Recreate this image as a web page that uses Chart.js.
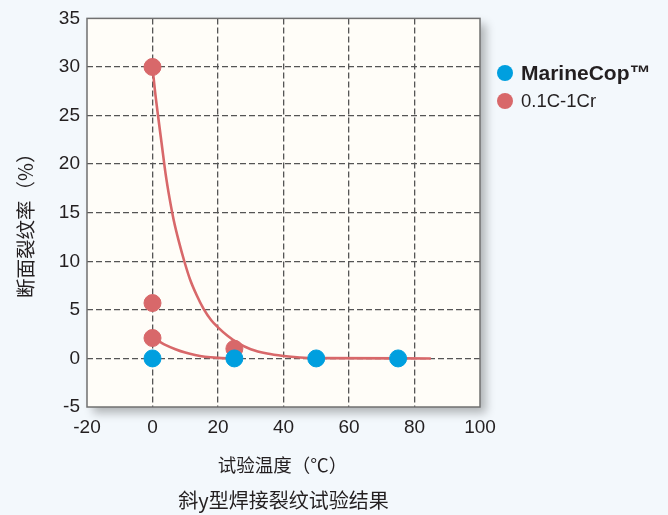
<!DOCTYPE html>
<html>
<head>
<meta charset="utf-8">
<script src="https://cdn.jsdelivr.net/npm/chart.js@4.4.1/dist/chart.umd.min.js"></script>
<style>
  html, body { margin: 0; padding: 0; background: #f3f8fc; }
  #wrap { width: 668px; height: 515px; position: relative; }
</style>
</head>
<body>
<div id="wrap"><canvas id="crackChart" width="668" height="515"></canvas></div>
<script>
// data
var seriesNames = ['MarineCop™', '0.1C-1Cr'];
var marineTemps = [0, 25, 50, 75];
var marineRates = [0, 0, 0, 0];
var crTemps = [0, 0, 0, 25];
var crRates = [30, 5.7, 2.1, 1.0];
// trend curves
var upperCurveX = [0, 0.8, 1.8, 2.8, 4, 5.2, 6.5, 8, 9.8, 11.5, 13.5, 15.6, 18, 20, 23, 26, 30, 35, 40, 45, 50, 85];
var upperCurveY = [30, 27.4, 24.7, 22.1, 19.0, 16.5, 14.2, 12.1, 9.9, 8.1, 6.5, 5.1, 3.9, 3.2, 2.3, 1.6, 0.95, 0.5, 0.25, 0.1, 0.03, 0];
var lowerCurveX = [0, 2, 3.9, 7, 10, 13, 16, 20, 24];
var lowerCurveY = [2.1, 1.75, 1.4, 0.95, 0.6, 0.35, 0.18, 0.06, 0];
var xTicks = [-20, 0, 20, 40, 60, 80, 100];
var yTicks = [-5, 0, 5, 10, 15, 20, 25, 30, 35];
var xTitle = '试验温度（℃）';
var yTitle = '断面裂纹率（%）';
var caption = '斜y型焊接裂纹试验结果';

var BLUE = '#009fdf';
var RED = '#d8686a';

function pairs(xs, ys) {
  var out = [];
  for (var i = 0; i < xs.length; i++) out.push({x: xs[i], y: ys[i]});
  return out;
}

var frame_plugin = {
  id: 'frame',
  beforeDraw: function(chart) {
    var ctx = chart.ctx, a = chart.chartArea;
    ctx.save();
    ctx.fillStyle = '#f3f8fc';
    ctx.fillRect(0, 0, chart.width, chart.height);
    ctx.shadowColor = 'rgba(0,0,0,0.28)';
    ctx.shadowBlur = 9;
    ctx.shadowOffsetX = 6;
    ctx.shadowOffsetY = 6;
    ctx.fillStyle = '#fffdf8';
    ctx.fillRect(a.left, a.top, a.right - a.left, a.bottom - a.top);
    ctx.restore();
  },
  afterDraw: function(chart) {
    var ctx = chart.ctx, a = chart.chartArea;
    ctx.save();
    ctx.strokeStyle = '#707070';
    ctx.lineWidth = 1.5;
    ctx.strokeRect(a.left, a.top, a.right - a.left, a.bottom - a.top);

    // axis titles and caption
    ctx.fillStyle = '#231f20';
    ctx.textAlign = 'center';
    ctx.textBaseline = 'middle';
    var cx = (a.left + a.right) / 2;
    ctx.font = '18.5px "Noto Sans CJK SC", sans-serif';
    ctx.fillText(xTitle, cx - 1, 465);
    ctx.font = '20px "Noto Sans CJK SC", sans-serif';
    ctx.fillText(caption, cx, 500);
    ctx.save();
    ctx.translate(26, (a.top + a.bottom) / 2 + 8);
    ctx.rotate(-Math.PI / 2);
    ctx.font = '19.5px "Noto Sans CJK SC", sans-serif';
    ctx.fillText(yTitle, 0, 0);
    ctx.restore();

    // legend
    var colors = [BLUE, RED];
    var fonts = ['bold 21px "Liberation Sans", Arial, sans-serif', '18.5px "Liberation Sans", Arial, sans-serif'];
    for (var i = 0; i < seriesNames.length; i++) {
      var ly = 73 + i * 28;
      ctx.beginPath();
      ctx.fillStyle = colors[i];
      ctx.arc(505, ly, 8, 0, Math.PI * 2);
      ctx.fill();
      ctx.fillStyle = '#231f20';
      ctx.font = fonts[i];
      ctx.textAlign = 'left';
      ctx.fillText(seriesNames[i], 521, ly + 1);
    }
    ctx.restore();
  }
};

function gridColor(c) {
  if (c.index === 0 || c.index === c.scale.ticks.length - 1) return 'rgba(0,0,0,0)';
  return '#555555';
}

var ctx = document.getElementById('crackChart').getContext('2d');
var chart = new Chart(ctx, {
  type: 'scatter',
  data: {
    datasets: [
      {
        label: seriesNames[0],
        data: pairs(marineTemps, marineRates),
        backgroundColor: BLUE,
        borderColor: BLUE,
        pointRadius: 8.5,
        pointHoverRadius: 8.5,
        order: 0
      },
      {
        label: seriesNames[1],
        data: pairs(crTemps, crRates),
        backgroundColor: RED,
        borderColor: RED,
        pointRadius: 8.5,
        pointHoverRadius: 8.5,
        order: 1
      },
      {
        type: 'line',
        label: 'upper',
        data: pairs(upperCurveX, upperCurveY),
        borderColor: RED,
        borderWidth: 2.6,
        pointRadius: 0,
        fill: false,
        cubicInterpolationMode: 'monotone',
        order: 2
      },
      {
        type: 'line',
        label: 'lower',
        data: pairs(lowerCurveX, lowerCurveY),
        borderColor: RED,
        borderWidth: 2.6,
        pointRadius: 0,
        fill: false,
        cubicInterpolationMode: 'monotone',
        order: 3
      }
    ]
  },
  options: {
    responsive: false,
    animation: false,
    events: [],
    layout: { padding: { top: 15, right: 188, left: 0, bottom: 0 } },
    plugins: {
      legend: { display: false },
      tooltip: { enabled: false }
    },
    scales: {
      x: {
        type: 'linear',
        min: -20, max: 100,
        afterBuildTicks: function(s) { s.ticks = xTicks.map(function(v){ return {value: v}; }); },
        afterFit: function(s) { s.height = 108; },
        grid: { color: gridColor, lineWidth: 1.3, drawTicks: false },
        border: { display: false, dash: [6, 3] },
        ticks: {
          padding: 9,
          color: '#231f20',
          font: { family: '"Liberation Sans", Arial, sans-serif', size: 19 }
        }
      },
      y: {
        type: 'linear',
        min: -5, max: 35,
        afterBuildTicks: function(s) { s.ticks = yTicks.map(function(v){ return {value: v}; }); },
        afterFit: function(s) { s.width = 87; },
        grid: { color: gridColor, lineWidth: 1.3, drawTicks: false },
        border: { display: false, dash: [6, 3] },
        ticks: {
          padding: 7,
          color: '#231f20',
          font: { family: '"Liberation Sans", Arial, sans-serif', size: 19 }
        }
      }
    }
  },
  plugins: [frame_plugin]
});
</script>
</body>
</html>
